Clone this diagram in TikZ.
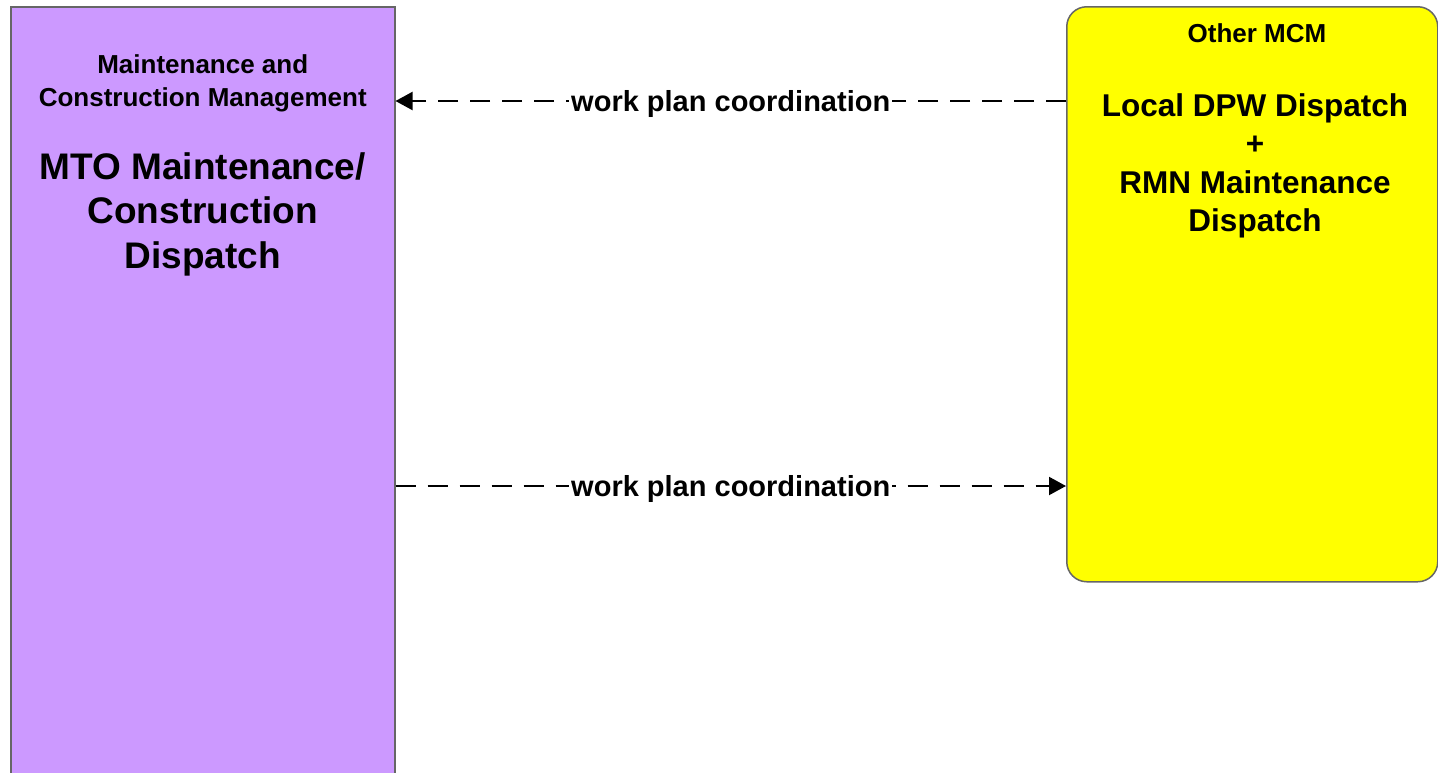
\documentclass[tikz,border=0pt]{standalone}
\usepackage{fontspec}
\setmainfont{Liberation Sans}
\usetikzlibrary{positioning,arrows.meta}
\definecolor{mcmpurple}{HTML}{CC99FF}
\definecolor{mcmyellow}{HTML}{FFFF00}
\definecolor{edgegray}{HTML}{666666}

\begin{document}
\begin{tikzpicture}[x=1pt, y=-1pt,
  box/.style={draw=edgegray, line width=1.5pt, inner sep=0pt, anchor=north west},
  boxtitle/.style={font=\fontsize{26}{33}\selectfont\bfseries, align=center, inner sep=0pt},
  boxname/.style={font=\fontsize{37}{44.5}\selectfont\bfseries, align=center, inner sep=0pt},
  flow/.style={line width=2pt, dash pattern=on 20pt off 12pt,
               -{Triangle[length=17pt, width=18pt]}},
  lbl/.style={fill=white, inner sep=2pt, yshift=-2.5pt,
              font=\fontsize{29}{34}\selectfont\bfseries}
]
  \clip (0,0) rectangle (1438,772);

  \node[box, fill=mcmpurple, minimum width=384pt, minimum height=800pt] (mcm) at (10,6) {};
  \node[box, fill=mcmyellow, rounded corners=20pt,
        minimum width=371pt, minimum height=575pt] (other) at (1066,6) {};

  \node[boxtitle] (mcmtitle) at (mcm.north |- 0,83) {Maintenance and\\Construction Management};
  \node[boxname] (mcmname) at (mcm.north |- 0,214) {MTO Maintenance/\\Construction\\Dispatch};

  \node[boxtitle] (othertitle) at (1257,33) {Other MCM};
  \node[boxname, font=\fontsize{31.5}{38.5}\selectfont\bfseries] (othername) at (1255,166)
    {Local DPW Dispatch\\+\\RMN Maintenance\\Dispatch};

  \coordinate (topfrom) at (other.west |- 0,101);
  \coordinate (topto)   at (mcm.east |- 0,101);
  \coordinate (botfrom) at (mcm.east |- 0,486);
  \coordinate (botto)   at (other.west |- 0,486);

  \draw[flow] (topfrom) -- node[lbl] {work plan coordination} (topto);
  \draw[flow] (botfrom) -- node[lbl] {work plan coordination} (botto);
\end{tikzpicture}
\end{document}
